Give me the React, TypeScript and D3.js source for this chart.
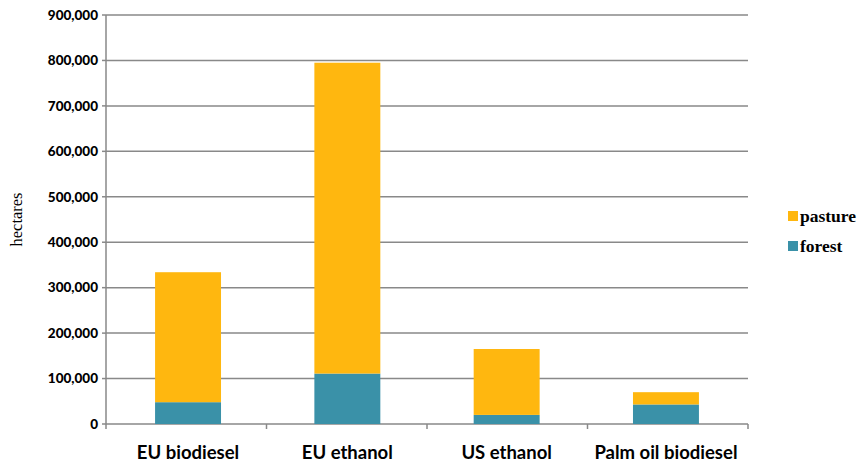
import React from "react";
import * as d3 from "d3";

const categories = ["EU biodiesel", "EU ethanol", "US ethanol", "Palm oil biodiesel"];
const forest = [48000, 111000, 20000, 43000];
const pasture = [286000, 684000, 145000, 27000];
const seriesNames = ["forest", "pasture"];
const yTicks = [0, 100000, 200000, 300000, 400000, 500000, 600000, 700000, 800000, 900000];

const W = 865, H = 466;
const M = { left: 106, right: 117, top: 15, bottom: 42 };
const colors: Record<string, string> = { forest: "#3A91A8", pasture: "#FFB70F" };

export default function App() {
  const x = d3.scaleBand().domain(categories).range([M.left, W - M.right]).paddingInner(0.586).paddingOuter(0.308);
  const y = d3.scaleLinear().domain([0, 900000]).range([H - M.bottom, M.top]);
  const rows = categories.map((c, i) => ({ cat: c, forest: forest[i], pasture: pasture[i] }));
  const stacked = d3.stack<any>().keys(seriesNames)(rows);
  const fmt = d3.format(",");
  const step = (W - M.right - M.left) / categories.length;
  const y0 = y(0);
  return (
    <svg width={W} height={H} style={{ position: "absolute", left: 0, top: 0, background: "#fff" }}>
      {yTicks.map((t) => (
        <g key={t}>
          {t > 0 && <line x1={M.left} x2={W - M.right} y1={y(t)} y2={y(t)} stroke="#898989" strokeWidth={1.5} />}
          <line x1={M.left - 4} x2={M.left} y1={y(t)} y2={y(t)} stroke="#898989" strokeWidth={1.5} />
          <text x={M.left - 8} y={y(t)} dy="0.35em" textAnchor="end" fontFamily="Lato, sans-serif" fontWeight="900" fontSize={13.5} fill="#000">
            {fmt(t)}
          </text>
        </g>
      ))}
      <line x1={M.left} x2={M.left} y1={M.top} y2={y0} stroke="#898989" strokeWidth={1.5} />
      <line x1={M.left} x2={W - M.right} y1={y0} y2={y0} stroke="#898989" strokeWidth={1.5} />
      {d3.range(categories.length + 1).map((i) => (
        <line key={i} x1={M.left + i * step} x2={M.left + i * step} y1={y0} y2={y0 + 5} stroke="#898989" strokeWidth={1.5} />
      ))}
      {stacked.map((s) => (
        <g key={s.key} fill={colors[s.key]}>
          {s.map((d: any, i: number) => (
            <rect key={i} x={x(categories[i])} width={x.bandwidth()} y={y(d[1])} height={y(d[0]) - y(d[1])} />
          ))}
        </g>
      ))}
      {categories.map((c) => (
        <text key={c} x={(x(c) as number) + x.bandwidth() / 2} y={459} textAnchor="middle" fontFamily="Lato, sans-serif" fontWeight="bold" fontSize={18.5} fill="#000">
          {c}
        </text>
      ))}
      <text transform={`translate(22,${(M.top + y0) / 2}) rotate(-90)`} textAnchor="middle" fontFamily="'Liberation Serif', serif" fontSize={16.5} fill="#000">
        hectares
      </text>
      {["pasture", "forest"].map((k, i) => (
        <g key={k} transform={`translate(788,${216 + i * 30})`}>
          <rect x={0} y={-5} width={10} height={10} fill={colors[k]} />
          <text x={12} y={0} dy="0.35em" fontFamily="'Liberation Serif', serif" fontWeight="bold" fontSize={17.5} fill="#000">
            {k}
          </text>
        </g>
      ))}
    </svg>
  );
}
